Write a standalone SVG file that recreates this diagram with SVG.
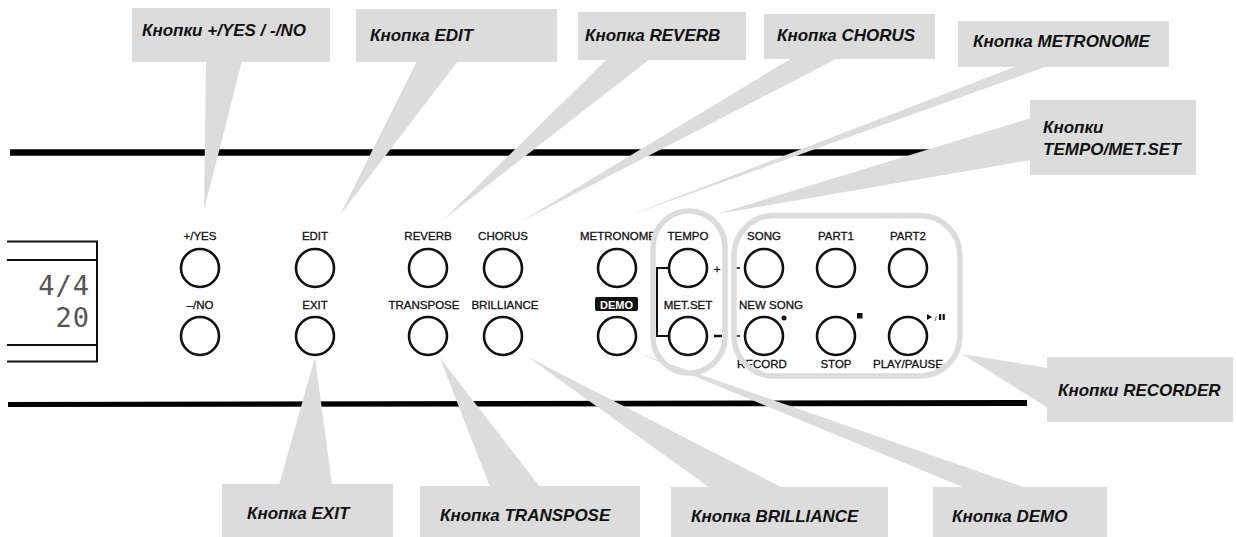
<svg xmlns="http://www.w3.org/2000/svg" width="1236" height="537" viewBox="0 0 1236 537">
<style>
.box{fill:#dcdcdc}
.ptr{fill:#dcdcdc}
.lbl{font-family:"Liberation Sans",Arial,sans-serif;font-size:17px;font-weight:bold;font-style:italic;fill:#111}
.pl{font-family:"Liberation Sans",Arial,sans-serif;font-size:11.5px;fill:#111;stroke:#111;stroke-width:0.3;text-anchor:middle}
.btn{fill:#fff;stroke:#111;stroke-width:2.6}
.grp{fill:none;stroke:#dcdcdc;stroke-width:5.5}
.thin{fill:none;stroke:#111;stroke-width:2}
.lcd{font-family:"DejaVu Sans Mono","Liberation Mono",monospace;font-size:27px;fill:#555;text-anchor:end;letter-spacing:1px}
</style>
<rect width="1236" height="537" fill="#fff"/>

<g id="panel">
  <line x1="10" y1="152.5" x2="940" y2="152.5" stroke="#000" stroke-width="6.5"/>
  <polygon points="8,402 1027,400 1027,406 8,407" fill="#000"/>
</g>

<g id="display">
  <path class="thin" d="M7,241.5 H97 V361.5 H7 M7,260 H97 M7,345 H97" stroke-width="3"/>
  <text class="lcd" x="90" y="295">4/4</text>
  <text class="lcd" x="90" y="327">20</text>
</g>

<g id="btn-yes"><text class="pl" x="200" y="240">+/YES</text><circle class="btn" cx="200" cy="268" r="19"/></g>
<g id="btn-no"><text class="pl" x="200" y="309">–/NO</text><circle class="btn" cx="200" cy="336" r="19"/></g>
<g id="btn-edit"><text class="pl" x="315" y="240">EDIT</text><circle class="btn" cx="315" cy="268" r="19"/></g>
<g id="btn-exit"><text class="pl" x="315" y="309">EXIT</text><circle class="btn" cx="315" cy="336" r="19"/></g>
<g id="btn-reverb"><text class="pl" x="428" y="240">REVERB</text><circle class="btn" cx="428" cy="268" r="19"/></g>
<g id="btn-transpose"><text class="pl" x="424" y="309">TRANSPOSE</text><circle class="btn" cx="428" cy="336" r="19"/></g>
<g id="btn-chorus"><text class="pl" x="503" y="240">CHORUS</text><circle class="btn" cx="503" cy="268" r="19"/></g>
<g id="btn-brilliance"><text class="pl" x="505" y="309">BRILLIANCE</text><circle class="btn" cx="503" cy="336" r="19"/></g>
<g id="btn-metronome"><text class="pl" x="618" y="240">METRONOME</text><circle class="btn" cx="617" cy="268" r="19"/></g>
<g id="btn-demo">
  <rect x="595" y="297" width="43" height="14" rx="2" fill="#111"/>
  <text x="616.5" y="308.5" font-family="Liberation Sans,Arial,sans-serif" font-size="11" font-weight="bold" fill="#fff" text-anchor="middle">DEMO</text>
  <circle class="btn" cx="617" cy="336" r="19"/>
</g>
<g id="btn-tempo">
  <text class="pl" x="688" y="240">TEMPO</text><circle class="btn" cx="688" cy="268" r="19"/>
  <text class="pl" x="717" y="273" font-size="11">+</text>
</g>
<g id="btn-metset">
  <text class="pl" x="688" y="309">MET.SET</text><circle class="btn" cx="688" cy="336" r="19"/>
  <line x1="714" y1="336" x2="722" y2="336" stroke="#111" stroke-width="2.5"/>
  <path class="thin" d="M669,268 H657 V336 H669"/>
</g>
<g id="btn-song">
  <text class="pl" x="764" y="240">SONG</text><circle class="btn" cx="764" cy="268" r="19"/>
  <line x1="735" y1="268" x2="740" y2="268" stroke="#111" stroke-width="1.5"/>
</g>
<g id="btn-part1"><text class="pl" x="836" y="240">PART1</text><circle class="btn" cx="836" cy="268" r="19"/></g>
<g id="btn-part2"><text class="pl" x="908" y="240">PART2</text><circle class="btn" cx="908" cy="268" r="19"/></g>
<g id="btn-record">
  <text class="pl" x="771" y="309">NEW SONG</text>
  <circle class="btn" cx="764" cy="336" r="19"/>
  <circle cx="784" cy="318" r="2.5" fill="#111"/>
  <line x1="735" y1="336" x2="740" y2="336" stroke="#111" stroke-width="1.5"/>
  <text class="pl" x="762" y="368">RECORD</text>
</g>
<g id="btn-stop">
  <circle class="btn" cx="836" cy="336" r="19"/>
  <rect x="857" y="313" width="5.5" height="5.5" fill="#111"/>
  <text class="pl" x="836" y="368">STOP</text>
</g>
<g id="btn-play">
  <circle class="btn" cx="908" cy="336" r="19"/>
  <polygon points="927,314 932,317 927,320" fill="#111"/>
  <text x="935.5" y="320.5" font-family="Liberation Sans,Arial,sans-serif" font-size="8" fill="#111" text-anchor="middle">/</text>
  <rect x="939" y="314" width="2.2" height="6" fill="#111"/>
  <rect x="942.6" y="314" width="2.2" height="6" fill="#111"/>
  <text class="pl" x="908" y="368">PLAY/PAUSE</text>
</g>

<g id="groups">
  <rect class="grp" x="653" y="211" width="72" height="162" rx="36"/>
  <rect class="grp" x="734" y="215.5" width="226" height="160.5" rx="40"/>
</g>

<g id="connectors">
  <polygon class="ptr" points="206,61 242,61 204,210"/>
  <polygon class="ptr" points="417,61 458,61 340,215"/>
  <polygon class="ptr" points="607,59 650,59 443,220"/>
  <polygon class="ptr" points="792,58 838,58 520,222"/>
  <polygon class="ptr" points="1017,66 1048,66 625,217"/>
  <polygon class="ptr" points="1031,118 1031,160 717,214"/>
  <polygon class="ptr" points="279,485 332,485 315,357"/>
  <polygon class="ptr" points="490,487 540,487 440,358"/>
  <polygon class="ptr" points="710,488 783,488 528,357"/>
  <polygon class="ptr" points="965,488 1026,488 638,353"/>
  <polygon class="ptr" points="1048,368 1048,408 962,354"/>
</g>

<g id="lbl-yesno"><rect class="box" x="132" y="8" width="198" height="54"/><text class="lbl" x="142" y="36">Кнопки +/YES / -/NO</text></g>
<g id="lbl-edit"><rect class="box" x="356" y="9" width="201" height="53"/><text class="lbl" x="370" y="41">Кнопка EDIT</text></g>
<g id="lbl-reverb"><rect class="box" x="578" y="12" width="168" height="48"/><text class="lbl" x="585" y="41">Кнопка REVERB</text></g>
<g id="lbl-chorus"><rect class="box" x="764" y="14" width="171" height="45"/><text class="lbl" x="777" y="41">Кнопка CHORUS</text></g>
<g id="lbl-metronome"><rect class="box" x="958" y="21" width="211" height="46"/><text class="lbl" x="973" y="47">Кнопка METRONOME</text></g>
<g id="lbl-tempo"><rect class="box" x="1030" y="100" width="166" height="75"/><text class="lbl" x="1043" y="133">Кнопки</text><text class="lbl" x="1043" y="155">TEMPO/MET.SET</text></g>
<g id="lbl-recorder"><rect class="box" x="1047" y="357" width="186" height="65"/><text class="lbl" x="1058" y="396">Кнопки RECORDER</text></g>
<g id="lbl-exit"><rect class="box" x="222" y="484" width="171" height="53"/><text class="lbl" x="247" y="519">Кнопка EXIT</text></g>
<g id="lbl-transpose"><rect class="box" x="420" y="486" width="220" height="51"/><text class="lbl" x="440" y="521">Кнопка TRANSPOSE</text></g>
<g id="lbl-brilliance"><rect class="box" x="671" y="487" width="217" height="50"/><text class="lbl" x="691" y="522">Кнопка BRILLIANCE</text></g>
<g id="lbl-demo"><rect class="box" x="933" y="487" width="174" height="50"/><text class="lbl" x="952" y="522">Кнопка DEMO</text></g>
</svg>
